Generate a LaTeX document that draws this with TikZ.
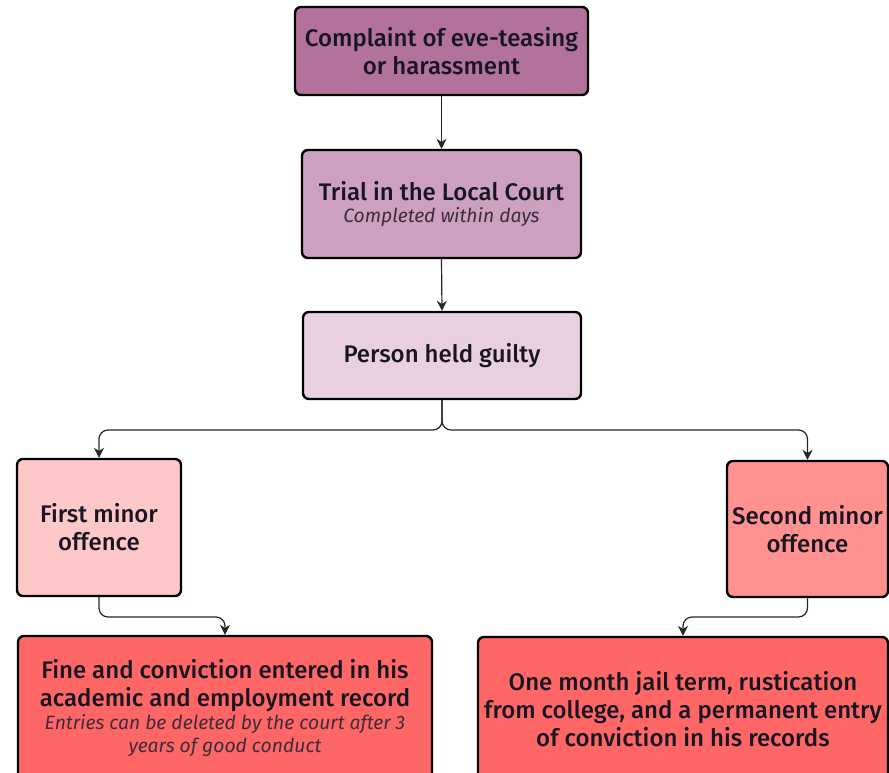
\documentclass[tikz,border=0pt]{standalone}
\usepackage{fontspec}
\setmainfont{Fira Sans}[UprightFont={* Medium},ItalicFont={* Italic}]
\usetikzlibrary{arrows.meta,calc}
\definecolor{cA}{RGB}{178,114,156}
\definecolor{cB}{RGB}{205,160,192}
\definecolor{cC}{RGB}{233,208,225}
\definecolor{cD}{RGB}{255,200,200}
\definecolor{cE}{RGB}{255,145,145}
\definecolor{cF}{RGB}{255,102,102}
\definecolor{txt}{RGB}{25,22,35}
\definecolor{subtxt}{RGB}{60,45,60}
\newcommand{\subtext}[1]{{\fontsize{19.3}{20}\selectfont\itshape\color{subtxt}#1}}
\begin{document}
\begin{tikzpicture}[x=1pt,y=-1pt,
  box/.style={draw=black,line width=2.4pt,rounded corners=6pt,align=center,text=txt,
    inner sep=0pt,font=\fontsize{24}{28}\selectfont},
  conn/.style={draw=black!85,line width=1.2pt,rounded corners=9pt,-{Stealth[length=10pt,width=10pt]}}]
\useasboundingbox (0,0) rectangle (889,773);
\node[box,fill=cA,minimum width=293pt,minimum height=88pt] (c) at (441.5,51)
  {Complaint of eve-teasing\\or harassment};
\node[box,fill=cB,minimum width=279pt,minimum height=108pt] (t) at (441.5,204)
  {Trial in the Local Court\\[-6pt]\subtext{Completed within days}};
\node[box,fill=cC,minimum width=278pt,minimum height=87pt] (p) at (442,355.5)
  {Person held guilty};
\node[box,fill=cD,minimum width=164pt,minimum height=137pt] (f) at (99,527.5)
  {First minor\\offence};
\node[box,fill=cE,minimum width=161pt,minimum height=136pt] (s) at (807.5,529)
  {Second minor\\offence};
\node[box,fill=cF,minimum width=414pt,minimum height=144pt] (fine) at (225,708)
  {Fine and conviction entered in his\\academic and employment record\\[-5pt]\subtext{Entries can be deleted by the court after 3}\\[-5pt]\subtext{years of good conduct}};
\node[box,fill=cF,minimum width=410pt,minimum height=144pt] (one) at (683,709)
  {One month jail term, rustication\\from college, and a permanent entry\\of conviction in his records};
\coordinate (pj) at (442,430);
\coordinate (fj) at (99,617);
\coordinate (sj) at (807.5,617);
\draw[conn] (c.south) -- (t.north);
\draw[conn] (t.south) -- (p.north);
\draw[conn] (p.south) -- (pj) -| (f.north);
\draw[conn] (p.south) -- (pj) -| (s.north);
\draw[conn] (f.south) -- (fj) -| (fine.north);
\draw[conn] (s.south) -- (sj) -| (one.north);
\end{tikzpicture}
\end{document}
